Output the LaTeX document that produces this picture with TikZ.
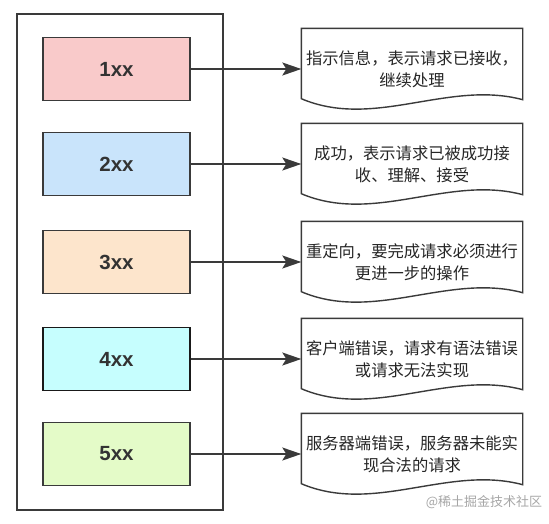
\documentclass[tikz,border=0pt]{standalone}
\usepackage{fontspec}
\setmainfont{Liberation Sans}
\newfontfamily\cjk{Noto Sans CJK SC}
\usetikzlibrary{arrows.meta}
\definecolor{lineclr}{HTML}{3A3A3A}
\definecolor{redfill}{HTML}{F9CACA}
\definecolor{bluefill}{HTML}{C9E4FB}
\definecolor{orangefill}{HTML}{FDE5CC}
\definecolor{cyanfill}{HTML}{C6FEFE}
\definecolor{greenfill}{HTML}{E4FBC8}
\begin{document}
\begin{tikzpicture}[x=1pt,y=-1pt,line width=1.4pt,draw=lineclr,
  codebox/.style={draw,minimum width=147pt,minimum height=63pt,inner sep=0pt,
    text=black!80,font=\bfseries\fontsize{20.5}{24}\selectfont},
  docbox/.style={minimum width=220pt,minimum height=80pt,inner sep=0pt,
    align=center,text=black!85,font=\cjk\fontsize{16.3}{22}\selectfont},
  docline/.style={draw=lineclr,line width=1.4pt},
  arrowline/.style={draw=lineclr,-{Stealth[length=19pt,width=13pt,inset=4pt]}}]
\useasboundingbox (0,0) rectangle (549,523);
% status code frame
\draw (17,14) rectangle (223,510);
\node[codebox,fill=redfill] (b1) at (116.5,69) {1xx};
\node[codebox,fill=bluefill] (b2) at (116.5,164) {2xx};
\node[codebox,fill=orangefill] (b3) at (116.5,262) {3xx};
\node[codebox,fill=cyanfill,draw=black!90] (b4) at (116.5,359) {4xx};
\node[codebox,fill=greenfill] (b5) at (116.5,454) {5xx};
% descriptions
\node[docbox] (d1) at (412,69) {指示信息，表示请求已接收，\\继续处理};
\node[docbox] (d2) at (412,164) {成功，表示请求已被成功接\\收、理解、接受};
\node[docbox] (d3) at (412,262) {重定向，要完成请求必须进行\\更进一步的操作};
\node[docbox] (d4) at (412,359) {客户端错误，请求有语法错误\\或请求无法实现};
\node[docbox] (d5) at (412,454) {服务器端错误，服务器未能实\\现合法的请求};
\foreach \i in {1,...,5} {
  \draw[docline] (d\i.north west) -- (d\i.north east) -- ([yshift=10pt]d\i.south east)
    .. controls ([xshift=147pt,yshift=30pt]d\i.south west) and ([xshift=73pt,yshift=-20pt]d\i.south west)
    .. ([yshift=11pt]d\i.south west) -- cycle;
  \draw[arrowline] (b\i.east) -- (d\i.west);
}
\node[text=black!35,font=\cjk\fontsize{13}{15}\selectfont] (mark) at (484,502) {@稀土掘金技术社区};
\end{tikzpicture}
\end{document}
